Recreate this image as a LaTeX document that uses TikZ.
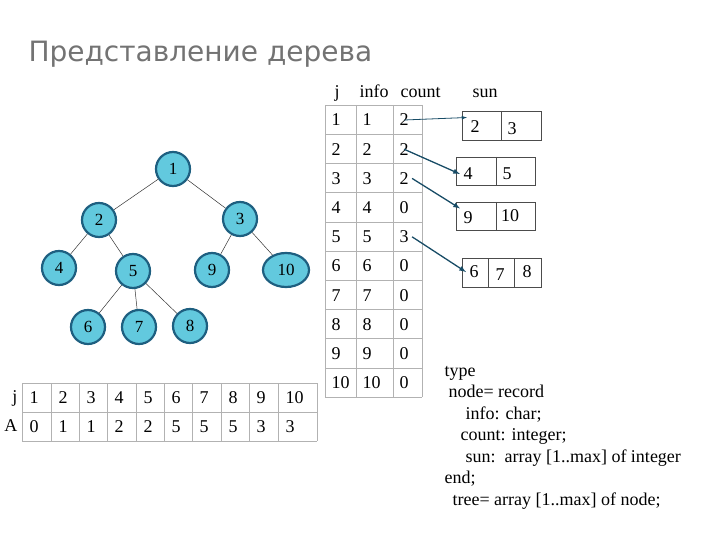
\documentclass[tikz,border=0pt]{standalone}
\usepackage{fontspec}
\usetikzlibrary{shapes.geometric}
\setmainfont{Liberation Serif}
\newfontfamily\titlefont{DejaVu Sans}
\definecolor{nfill}{HTML}{62C9DE}
\definecolor{nedge}{HTML}{1E5F80}
\begin{document}
\begin{tikzpicture}[x=1pt,y=-1pt,
  tn/.style={circle,draw=nedge,line width=2.2pt,fill=nfill,minimum size=34pt,inner sep=0pt,font=\fontsize{17}{17}\selectfont},
  ed/.style={draw=black!80,line width=0.5pt},
  cell/.style={font=\fontsize{18}{18}\selectfont},
  grid/.style={draw=black!30,line width=0.5pt},
  ar/.style={draw=nedge!80!black,line width=1.3pt,->,>=latex},
  code/.style={anchor=base west,font=\fontsize{18}{18}\selectfont}]
\useasboundingbox (0,0) rectangle (720,540);
\node[anchor=base west,text=black!55,font=\titlefont\fontsize{28}{28}\selectfont] (title) at (25,62) {Представление дерева};
% tree
\node[tn] (n1) at (173,169) {1};
\node[tn] (n2) at (99,220) {2};
\node[tn] (n3) at (240,219) {3};
\node[tn] (n4) at (59,268) {4};
\node[tn] (n5) at (133,271) {5};
\node[tn] (n9) at (212,270) {9};
\node[tn,ellipse,minimum width=46pt,minimum height=34pt] (n10) at (286,270) {10};
\node[tn] (n6) at (88,327) {6};
\node[tn] (n7) at (139,327) {7};
\node[tn] (n8) at (190,326) {8};
\foreach \a/\b in {n1/n2,n1/n3,n2/n4,n2/n5,n3/n9,n3/n10,n5/n6,n5/n7,n5/n8} \draw[ed] (\a) -- (\b);
% bottom table
\def\xs{{22,51,79,107,136,164,192,221,249,278,317}}
\foreach \i in {0,...,10} {\pgfmathsetmacro\xx{\xs[\i]}\draw[grid] (\xx,383) -- (\xx,441);}
\foreach \y in {383,412,441} \draw[grid] (22,\y) -- (317,\y);
\node[cell,anchor=east] (lj) at (21,398) {j};
\node[cell,anchor=east] (la) at (21,426) {A};
\foreach \v [count=\i from 0] in {1,2,3,4,5,6,7,8,9,10} {\pgfmathsetmacro\xx{\xs[\i]+4}\node[cell,anchor=west] (bj\i) at (\xx,398) {\v};}
\foreach \v [count=\i from 0] in {0,1,1,2,2,5,5,5,3,3} {\pgfmathsetmacro\xx{\xs[\i]+4}\node[cell,anchor=west] (ba\i) at (\xx,427) {\v};}
% right table
\node[cell,anchor=base west] (hj) at (331,98) {j};
\node[cell,anchor=base west] (hi) at (356,98) {info};
\node[cell,anchor=base west] (hc) at (397,98) {count};
\node[cell,anchor=base west] (hs) at (469,98) {sun};
\foreach \x in {325,356,393,422} \draw[grid] (\x,105) -- (\x,397);
\foreach \k in {0,...,10} \draw[grid] (325,105+29.2*\k) -- (422,105+29.2*\k);
\foreach \v [count=\k from 0] in {1,...,10} {
  \node[cell,anchor=west] (rj\k) at (328,120+29.2*\k) {\v};
  \node[cell,anchor=west] (ri\k) at (359,120+29.2*\k) {\v};}
\foreach \v [count=\k from 0] in {2,2,2,0,3,0,0,0,0,0}
  \node[cell,anchor=west] (rc\k) at (396,120+29.2*\k) {\v};
% sun boxes
\draw[grid,draw=black!70] (462,111) rectangle (541,140) (501,111) -- (501,140);
\node[cell] (s12) at (475,127) {2}; \node[cell] (s13) at (512,129) {3};
\draw[grid,draw=black!70] (456,157) rectangle (535,185) (496,157) -- (496,185);
\node[cell] (s24) at (468,174) {4}; \node[cell] (s25) at (507,174) {5};
\draw[grid,draw=black!70] (456,202) rectangle (535,230) (496,202) -- (496,230);
\node[cell] (s39) at (468,218) {9}; \node[cell] (s310) at (510,216) {10};
\draw[grid,draw=black!70] (462,258) rectangle (541,287) (488,258) -- (488,287) (514,258) -- (514,287);
\node[cell] (s46) at (474,272) {6}; \node[cell] (s47) at (500,275) {7}; \node[cell] (s48) at (527,272) {8};
\draw[ar,line width=0.8pt] (rc0.center) -- (s12.north west);
\draw[ar] (rc1.center) -- (s24.west);
\draw[ar] (rc2.east) -- (s39.north west);
\draw[ar] (rc4.east) -- (s46.west);
% code
\node[code] (c1) at (441,376) {type};
\node[code] (c2) at (445,397) {node= record};
\node[code] (c3) at (462,419) {info: char;};
\node[code] (c4) at (457,440) {count: integer;};
\node[code] (c5) at (462,462) {sun:\ \ array [1..max] of integer};
\node[code] (c6) at (441,483) {end;};
\node[code] (c7) at (449,505) {tree= array [1..max] of node;};
\end{tikzpicture}
\end{document}
